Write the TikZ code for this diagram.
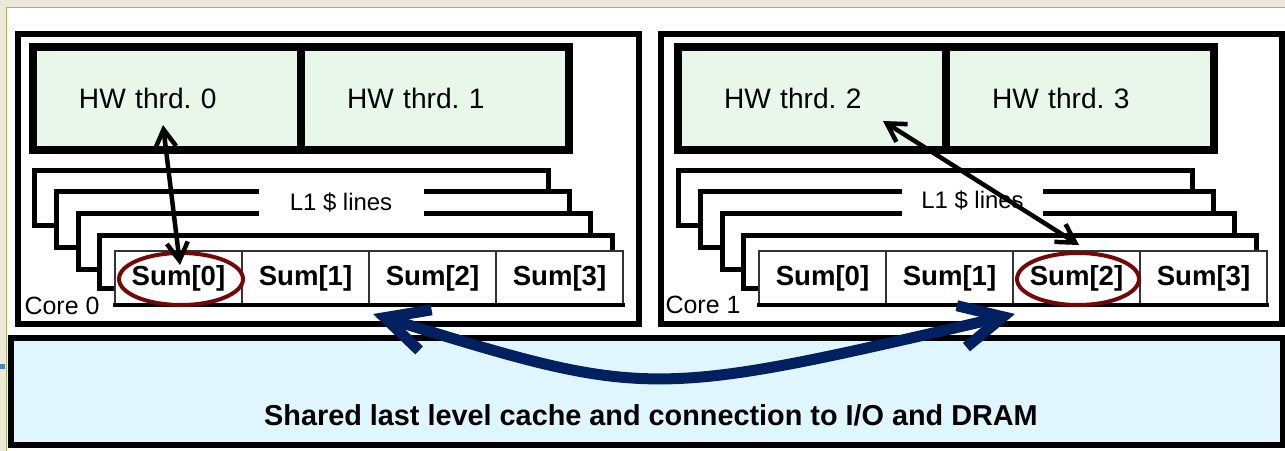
\documentclass[tikz,border=0pt]{standalone}
\usepackage{fontspec}
\setmainfont{Liberation Sans}
\usetikzlibrary{positioning,arrows.meta}

\definecolor{bgbeige}{RGB}{236,233,216}
\definecolor{framegreen}{RGB}{155,187,89}
\definecolor{tickblue}{RGB}{79,129,189}
\definecolor{thrdgreen}{RGB}{232,247,233}
\definecolor{llcblue}{RGB}{224,246,255}
\definecolor{ringred}{RGB}{115,8,8}
\definecolor{busblue}{RGB}{0,32,96}

\begin{document}
\frenchspacing
\begin{tikzpicture}
  [x=0.2mm,y=-0.2mm,
   core/.style={draw,line width=0.11cm,minimum width=12.42cm,minimum height=5.8cm,outer sep=0pt},
   thrd/.style={draw,line width=0.15cm,fill=thrdgreen,outer sep=0pt,minimum height=2.06cm,
     inner xsep=0.92cm,text width=3.52cm,align=left,font=\fontsize{16}{19}\selectfont},
   sumcell/.style={draw=black!80,line width=0.03cm,fill=white,outer sep=0pt,inner sep=0pt,
     minimum width=2.54cm,minimum height=1.08cm,font=\bfseries\fontsize{15.7}{18}\selectfont},
   layer/.style={draw,line width=0.1cm,fill=white},
   lines/.style={fill=white,inner sep=0pt,minimum width=3.3cm,minimum height=0.64cm,
     font=\fontsize{13.6}{16}\selectfont},
   corelbl/.style={inner sep=0pt,font=\fontsize{14.2}{17}\selectfont},
   ring/.style={draw=ringred,line width=0.08cm},
   dbl/.style={line width=0.09cm,
     {Straight Barb[length=0.36cm,width=0.42cm]}-{Straight Barb[length=0.36cm,width=0.42cm]}},
   bus/.style={draw=busblue,line width=0.22cm,line cap=round,
     {Straight Barb[length=0.85cm,width=0.85cm]}-{Straight Barb[length=0.85cm,width=0.85cm]}}]

  \useasboundingbox (0,0) rectangle (1285,451);
  \fill[bgbeige] (0,0) rectangle (1285,451);
  \fill[white] (7,8) rectangle (1285,451);
  \draw[framegreen,line width=0.03cm] (6.5,451) -- (6.5,7.5) -- (1285,7.5);
  \fill[tickblue] (0,364) rectangle (5,369);

  % shared cache
  \node[draw,line width=0.12cm,fill=llcblue,minimum width=25.44cm,minimum height=2.13cm,outer sep=0pt]
    (llc) at (647,391.25) {};
  \node[font=\bfseries\fontsize{16.4}{19}\selectfont] (llctxt) at (651,415)
    {Shared last level cache and connection to I/O and DRAM};

  % cores
  \node[core] (c0) at (328.5,179) {};
  \node[core] (c1) at (971.5,179) {};
  \node[corelbl] (c0lbl) at (62,306) {Core 0};
  \node[corelbl] (c1lbl) at (703,305) {Core 1};

  \node[thrd] (t0) at (167,98.5) {HW thrd. 0};
  \node[thrd,right=0pt of t0] (t1) {HW thrd. 1};
  \node[thrd] (t2) at (812,98.5) {HW thrd. 2};
  \node[thrd,right=0pt of t2] (t3) {HW thrd. 3};

  % L1 lines, stacked
  \foreach \dx in {0,644}
    \foreach \l/\t/\r/\b in {34/170/548/225,56/191/569/247,78/213/590/269,99/235/612/288}
      \draw[layer] (\l+\dx,\t) rectangle (\r+\dx,\b);
  \node[lines] (l1a) at (341,202) {L1 \$ lines};
  \node[lines,minimum width=2.82cm] (l1b) at (972.5,200) {L1 \$ lines};

  \node[sumcell] (s00) at (178.5,278) {Sum[0]};
  \node[sumcell,right=0pt of s00] (s01) {Sum[1]};
  \node[sumcell,right=0pt of s01] (s02) {Sum[2]};
  \node[sumcell,right=0pt of s02] (s03) {Sum[3]};
  \node[sumcell] (s10) at (822.5,278) {Sum[0]};
  \node[sumcell,right=0pt of s10] (s11) {Sum[1]};
  \node[sumcell,right=0pt of s11] (s12) {Sum[2]};
  \node[sumcell,right=0pt of s12] (s13) {Sum[3]};
  \draw[line width=0.08cm] ([xshift=-0.04cm]s00.south west) -- ([xshift=0.04cm]s03.south east);
  \draw[line width=0.08cm] ([xshift=-0.04cm]s10.south west) -- ([xshift=0.04cm]s13.south east);

  \draw[ring] ([shift={(2.5,1)}]s00.center) ellipse [x radius=1.24cm,y radius=0.52cm];
  \draw[ring] ([shift={(1.5,1)}]s12.center) ellipse [x radius=1.22cm,y radius=0.52cm];

  \draw[dbl] ([shift={(-4,26.5)}]t0.center) -- ([shift={(1.5,-13)}]s00.center);
  \draw[dbl] ([shift={(71,22.5)}]t2.center) -- ([shift={(2.5,-33)}]s12.center);

  \coordinate (b0) at ([shift={(44.5,135)}]c0.center);
  \coordinate (b1) at ([shift={(43.5,135)}]c1.center);
  \draw[bus] (b0) .. controls (649,399) .. (b1);

\end{tikzpicture}
\end{document}
